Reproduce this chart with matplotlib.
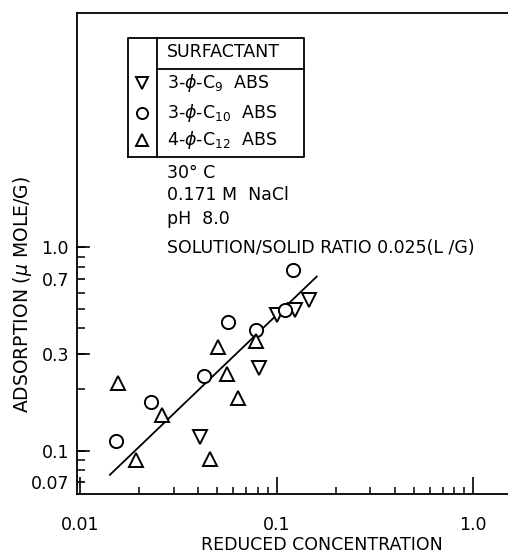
import matplotlib
matplotlib.use("Agg")
from matplotlib import pyplot as plt
from matplotlib.ticker import FixedLocator, NullFormatter

# data
c9_x = [0.0406, 0.0812, 0.100, 0.1236, 0.146]
c9_y = [0.117, 0.255, 0.466, 0.493, 0.552]
c10_x = [0.0153, 0.023, 0.0426, 0.0567, 0.079, 0.110, 0.1217]
c10_y = [0.112, 0.173, 0.232, 0.431, 0.393, 0.49, 0.777]
c12_x = [0.01557, 0.0192, 0.0263, 0.0457, 0.0504, 0.056, 0.064, 0.079]
c12_y = [0.216, 0.090, 0.150, 0.0907, 0.323, 0.239, 0.182, 0.347]
fit_x = [0.01422, 0.16]
fit_y = [0.0759, 0.719]

xticks = [0.01, 0.1, 1.0]
xticklabels = ["0.01", "0.1", "1.0"]
yticks = [0.07, 0.1, 0.3, 0.7, 1.0]
yticklabels = ["0.07", "0.1", "0.3", "0.7", "1.0"]

plt.rcParams['font.family'] = ['DejaVu Sans']
fs = 12.5
fig = plt.figure(figsize=(5.08, 5.58), dpi=100)
ax = fig.add_axes([0.152, 0.115, 0.848, 0.862])
ax.set_xscale('log')
ax.set_yscale('log')
ax.set_xlim(0.0097, 1.5)
ax.set_ylim(0.0612, 14.3)

ax.plot(fit_x, fit_y, color='black', lw=1.3)
mk = dict(linestyle='none', mfc='white', mec='black', mew=1.4, ms=9.5)
ax.plot(c9_x, c9_y, marker='v', **mk)
ax.plot(c10_x, c10_y, marker='o', **mk)
ax.plot(c12_x, c12_y, marker='^', **mk)

ax.spines['right'].set_visible(False)
for s in ax.spines.values():
    s.set_linewidth(1.3)

# x ticks
ax.xaxis.set_major_locator(FixedLocator(xticks))
ax.set_xticklabels(xticklabels)
ax.xaxis.set_minor_locator(FixedLocator([i * 0.01 for i in range(2, 10)] + [i * 0.1 for i in range(2, 10)]))
ax.xaxis.set_minor_formatter(NullFormatter())
ax.tick_params(axis='x', which='major', direction='in', length=12, width=1.2, pad=16, labelsize=fs)
ax.tick_params(axis='x', which='minor', direction='in', length=5, width=1.1)

# y ticks
ax.yaxis.set_major_locator(FixedLocator(yticks))
ax.set_yticklabels(yticklabels)
ax.yaxis.set_minor_locator(FixedLocator([0.08, 0.09, 0.2, 0.4, 0.5, 0.6, 0.8, 0.9]))
ax.yaxis.set_minor_formatter(NullFormatter())
ax.tick_params(axis='y', which='major', direction='in', length=6, width=1.2, pad=6, labelsize=fs)
ax.tick_params(axis='y', which='minor', direction='in', length=6, width=1.1)
# long ticks at 1.0, 0.3, 0.1
for v in [0.1, 0.3, 1.0]:
    ax.plot([0, 0.028], [v, v], color='black', lw=1.2,
            transform=ax.get_yaxis_transform(), clip_on=False)

ax.set_xlabel("REDUCED CONCENTRATION", fontsize=fs, va='center')
ax.xaxis.set_label_coords(0.568, -0.106)
ax.set_ylabel(r"ADSORPTION ($\mu$ MOLE/G)", fontsize=13.5)
ax.yaxis.set_label_coords(-0.100, 0.414)

# legend table
T = ax.transAxes
box = dict(color='black', lw=1.3, transform=T, clip_on=False)
x0, x1, xd = 0.118, 0.527, 0.186
y0, y1, yh = 0.701, 0.948, 0.884
ax.plot([x0, x1, x1, x0, x0], [y0, y0, y1, y1, y0], **box)
ax.plot([xd, xd], [y0, y1], **box)
ax.plot([xd, x1], [yh, yh], **box)
ax.text(0.209, 0.919, "SURFACTANT", transform=T, fontsize=fs, va='center')
rows = [('v', r"3-$\phi$-C$_9$  ABS", 0.854),
        ('o', r"3-$\phi$-C$_{10}$  ABS", 0.792),
        ('^', r"4-$\phi$-C$_{12}$  ABS", 0.736)]
for m, label, yy in rows:
    ax.plot([0.151], [yy], marker=m, linestyle='none', mfc='white', mec='black',
            mew=1.4, ms=8, transform=T, clip_on=False)
    ax.text(0.209, yy, label, transform=T, fontsize=fs, va='center')

notes = [("30° C", 0.667), ("0.171 M  NaCl", 0.622), ("pH  8.0", 0.572),
         ("SOLUTION/SOLID RATIO 0.025(L /G)", 0.511)]
for s, yy in notes:
    ax.text(0.209, yy, s, transform=T, fontsize=fs, va='center')

fig.savefig("out.png", dpi=100)
